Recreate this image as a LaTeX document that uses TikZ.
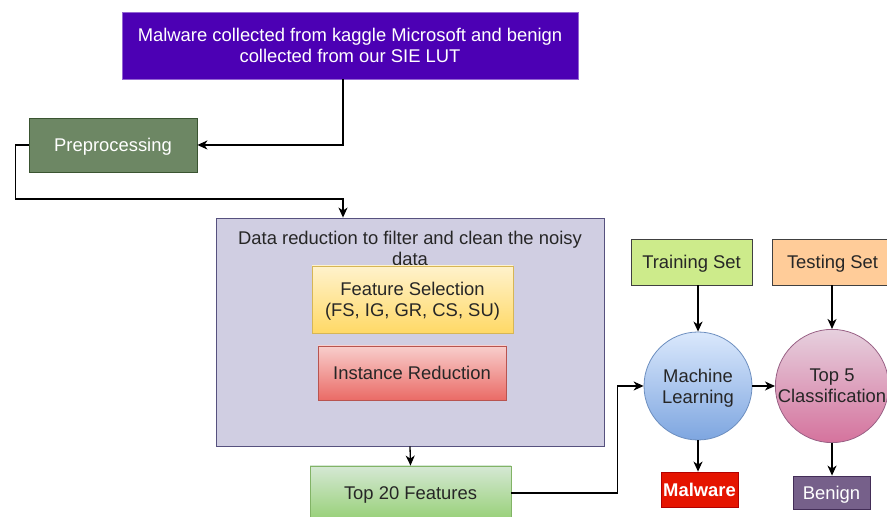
\documentclass[tikz,border=0pt]{standalone}
\usepackage{fontspec}
\setmainfont{Liberation Sans}
\usetikzlibrary{arrows.meta}

\definecolor{srcfill}{HTML}{4C00B4}
\definecolor{prepfill}{HTML}{6D8764}
\definecolor{prepdraw}{HTML}{3A5431}
\definecolor{redfill}{HTML}{D0CEE2}
\definecolor{reddraw}{HTML}{56517E}

\tikzset{
    box/.style = {draw, rectangle, inner sep=0pt, align=center, text depth=0pt,
        font=\fontsize{9.2}{10.5}\selectfont, text=black!85},
    arr/.style = {-{Stealth[length=5pt, width=4.5pt, inset=1.5pt]}, line width=0.65pt},
    conn/.style = {line width=0.65pt}
}

\begin{document}
\begin{tikzpicture}[x=0.5pt, y=0.5pt]
        \useasboundingbox (0, 0) rectangle (887, 517);
        % source and preprocessing
        \node [box, fill=srcfill, draw=srcfill!60!white, text=white,
            minimum width=228pt, minimum height=33.5pt] (src) at (350, 471.5)
            {Malware collected from kaggle Microsoft and benign\\collected from our SIE LUT};
        \node [box, fill=prepfill, draw=prepdraw, text=white,
            minimum width=84pt, minimum height=27pt] (prep) at (113, 372) {Preprocessing};
        % data reduction
        \node [box, fill=redfill, draw=reddraw,
            minimum width=194pt, minimum height=114pt] (red) at (410, 185) {};
        \node [align=center, inner sep=0pt, font=\fontsize{9.2}{10.5}\selectfont, text=black!85]
            (redtitle) at (410, 268.5) {Data reduction to filter and clean the noisy\\data};
        \node [box, draw={rgb,255:red,214;green,182;blue,86}, top color={rgb,255:red,255;green,242;blue,204},
            bottom color={rgb,255:red,255;green,217;blue,102},
            minimum width=100.5pt, minimum height=33.5pt] (fs) at (412.5, 217.5)
            {Feature Selection\\(FS, IG, GR, CS, SU)};
        \node [box, draw={rgb,255:red,184;green,84;blue,80}, top color={rgb,255:red,248;green,206;blue,204},
            bottom color={rgb,255:red,234;green,107;blue,102},
            minimum width=94pt, minimum height=27pt] (ir) at (412, 144) {Instance Reduction};
        \node [box, draw={rgb,255:red,130;green,179;blue,102}, top color={rgb,255:red,213;green,232;blue,212},
            bottom color={rgb,255:red,151;green,208;blue,119},
            minimum width=100.5pt, minimum height=27pt] (top20) at (410.5, 24) {Top 20 Features};
        % learning
        \node [box, draw=black!75, fill={rgb,255:red,205;green,235;blue,139},
            minimum width=60.5pt, minimum height=23pt] (train) at (691.5, 255) {Training Set};
        \node [box, draw=black!75, fill={rgb,255:red,255;green,204;blue,153},
            minimum width=60.5pt, minimum height=23pt] (test) at (832.5, 255) {Testing Set};
        \node [box, circle, draw={rgb,255:red,108;green,142;blue,191}, top color={rgb,255:red,218;green,232;blue,252},
            bottom color={rgb,255:red,126;green,166;blue,224},
            minimum size=54pt] (ml) at (698, 131) {Machine\\Learning};
        \node [box, circle, draw={rgb,255:red,153;green,97;blue,133}, top color={rgb,255:red,230;green,208;blue,222},
            bottom color={rgb,255:red,213;green,115;blue,157},
            minimum size=54pt] (top5) at (832, 131) {Top 5\\Classification};
        \node [box, fill={rgb,255:red,229;green,20;blue,0}, draw={rgb,255:red,178;green,0;blue,0}, text=white,
            minimum width=38.5pt, minimum height=17.5pt, font=\fontsize{9.2}{10.5}\selectfont\bfseries]
            (malware) at (699.5, 27.5) {Malware};
        \node [box, fill={rgb,255:red,118;green,96;blue,138}, draw={rgb,255:red,67;green,45;blue,87}, text=white,
            minimum width=38.5pt, minimum height=16.5pt] (benign) at (831.5, 24.5) {Benign};
        % connectors
        \coordinate (bend) at (343, 318);
        \draw [arr] (src.south -| bend) |- (prep.east);
        \draw [arr] (prep.west) -- ++(-13, 0) |- (bend) -- (bend |- red.north);
        \draw [arr] (red.south) -- (top20.north);
        \draw [arr] (top20.east) -- ++(106, 0) |- (ml.west);
        \draw [arr] (ml.north |- train.south) -- (ml.north);
        \draw [arr] (top5.north |- test.south) -- (top5.north);
        \draw [arr] (ml.east) -- (top5.west);
        \draw [arr] (ml.south) -- (ml.south |- malware.north);
        \draw [arr] (top5.south) -- (top5.south |- benign.north);
    \end{tikzpicture}
\end{document}
